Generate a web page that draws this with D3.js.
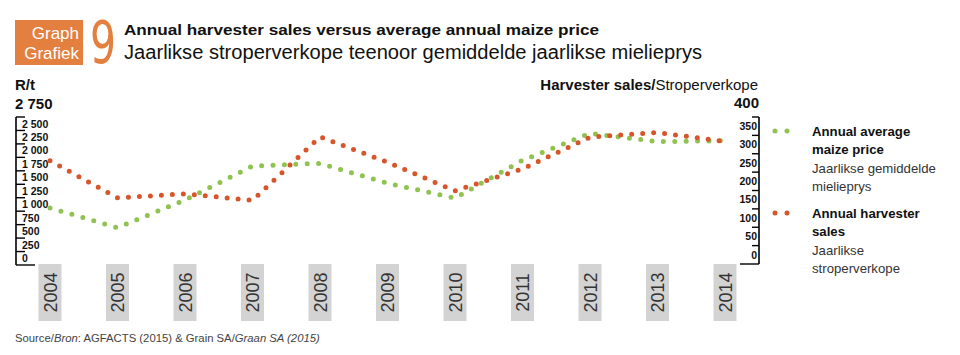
<!DOCTYPE html>
<html><head><meta charset="utf-8">
<script src="https://cdn.jsdelivr.net/npm/d3@7/dist/d3.min.js"></script>
<style>body{margin:0;background:#fff}svg{display:block}</style>
</head><body>
<svg id="c" width="960" height="355"></svg>
<script>
const years = [2004,2005,2006,2007,2008,2009,2010,2011,2012,2013,2014];
const maizePrice = [1060,693,1208,1839,1889,1518,1245,1945,2447,2291,2310];
const harvesterSales = [281,180,191,173,346,277,199,259,345,358,333];
const leftTicks = [0,250,500,750,1000,1250,1500,1750,2000,2250,2500,2750];
const rightTicks = [0,50,100,150,200,250,300,350,400];

const GREEN = "#8fc24f", ORANGE = "#d6552a", BOX = "#e3803f";
const FONT = "'Liberation Sans', Arial, sans-serif";
const svg = d3.select("#c");

// header
svg.append("rect").attr("x",15).attr("y",20).attr("width",68).attr("height",45).attr("fill",BOX);
svg.append("text").attr("x",79).attr("y",38.5).attr("text-anchor","end").attr("fill","#fff")
  .attr("font-family",FONT).attr("font-size",17).text("Graph");
svg.append("text").attr("x",79).attr("y",58.5).attr("text-anchor","end").attr("fill","#fff")
  .attr("font-family",FONT).attr("font-size",17).text("Grafiek");
svg.append("text").attr("x",90).attr("y",63).attr("fill",BOX)
  .attr("font-family","'DejaVu Sans', sans-serif").attr("font-size",58)
  .attr("textLength",26).attr("lengthAdjust","spacingAndGlyphs").text("9");
svg.append("text").attr("x",124).attr("y",35).attr("fill","#111").attr("font-family",FONT)
  .attr("font-weight","bold").attr("font-size",15.5).attr("textLength",475).attr("lengthAdjust","spacingAndGlyphs")
  .text("Annual harvester sales versus average annual maize price");
svg.append("text").attr("x",124).attr("y",59).attr("fill","#111").attr("font-family",FONT)
  .attr("font-size",19.5).attr("textLength",578).attr("lengthAdjust","spacingAndGlyphs")
  .text("Jaarlikse stroperverkope teenoor gemiddelde jaarlikse mielieprys");

// axis titles
svg.append("text").attr("x",15).attr("y",90).attr("font-family",FONT).attr("font-weight","bold")
  .attr("font-size",15).attr("fill","#111").text("R/t");
svg.append("text").attr("x",15).attr("y",109).attr("font-family",FONT).attr("font-weight","bold")
  .attr("font-size",15).attr("fill","#111").text("2 750");
const ht = svg.append("text").attr("x",758).attr("y",90).attr("text-anchor","end")
  .attr("font-family",FONT).attr("font-size",15).attr("fill","#111");
ht.append("tspan").attr("font-weight","bold").text("Harvester sales/");
ht.append("tspan").text("Stroperverkope");
svg.append("text").attr("x",759).attr("y",108).attr("text-anchor","end").attr("font-family",FONT)
  .attr("font-weight","bold").attr("font-size",15).attr("fill","#111").text("400");

// scales
const x = d3.scalePoint().domain(years).range([50,725]);
const yL = d3.scaleLinear().domain([0,2750]).range([265,117]);
const yR = d3.scaleLinear().domain([0,400]).range([264,117]);

// left axis (ruler)
const gL = svg.append("g");
gL.append("line").attr("x1",16).attr("x2",16).attr("y1",yL(2750)).attr("y2",yL(0)).attr("stroke","#000").attr("stroke-width",1.6);
gL.selectAll("line.t").data(leftTicks).join("line").attr("class","t")
  .attr("x1",16).attr("x2",d=>d===0?35:25).attr("y1",d=>yL(d)).attr("y2",d=>yL(d))
  .attr("stroke","#000").attr("stroke-width",1.4);
const fmt = d => d>=1000 ? Math.floor(d/1000)+" "+String(d%1000).padStart(3,"0") : String(d);
gL.selectAll("text").data(leftTicks.slice(0,-1)).join("text")
  .attr("x",22).attr("y",d=>(yL(d)+yL(d+250))/2+3.8)
  .attr("font-family",FONT).attr("font-weight","bold").attr("font-size",10.5).attr("fill","#111")
  .text(fmt);

// right axis
const gR = svg.append("g");
gR.append("line").attr("x1",759).attr("x2",759).attr("y1",yR(400)).attr("y2",yR(0)).attr("stroke","#000").attr("stroke-width",1.6);
gR.selectAll("line.t").data(rightTicks).join("line").attr("class","t")
  .attr("x1",d=>d===0?740:752).attr("x2",759).attr("y1",d=>yR(d)).attr("y2",d=>yR(d))
  .attr("stroke","#000").attr("stroke-width",1.4);
gR.selectAll("text").data(rightTicks.slice(0,-1)).join("text")
  .attr("x",757).attr("y",d=>(yR(d)+yR(d+50))/2+3.8).attr("text-anchor","end")
  .attr("font-family",FONT).attr("font-weight","bold").attr("font-size",10.5).attr("fill","#111")
  .text(d=>d);

// year labels
const gX = svg.append("g");
gX.selectAll("rect").data(years).join("rect")
  .attr("x",d=>x(d)-11.5).attr("y",264).attr("width",23).attr("height",57).attr("fill","#d3d3d3");
gX.selectAll("text").data(years).join("text")
  .attr("transform",d=>`translate(${x(d)+6.5},292.5) rotate(-90)`).attr("text-anchor","middle")
  .attr("font-family",FONT).attr("font-size",18).attr("fill","#333").text(d=>d);

// lines (straight segments drawn as round dots)
const lineL = d3.line().x((d,i)=>x(years[i])).y(d=>yL(d)).curve(d3.curveLinear);
const lineR = d3.line().x((d,i)=>x(years[i])).y(d=>yR(d)).curve(d3.curveLinear);
svg.append("path").attr("d",lineL(maizePrice)).attr("fill","none").attr("stroke",GREEN)
  .attr("stroke-width",5).attr("stroke-linecap","round").attr("stroke-dasharray","0 11.4");
svg.append("path").attr("d",lineR(harvesterSales)).attr("fill","none").attr("stroke",ORANGE)
  .attr("stroke-width",5).attr("stroke-linecap","round").attr("stroke-dasharray","0 11");

// legend
const legend = [
  {c:GREEN, y:131, lines:[["Annual average",true],["maize price",true],["Jaarlikse gemiddelde",false],["mielieprys",false]]},
  {c:ORANGE, y:213, lines:[["Annual harvester",true],["sales",true],["Jaarlikse",false],["stroperverkope",false]]}
];
legend.forEach(l=>{
  svg.append("line").attr("x1",775).attr("x2",799).attr("y1",l.y).attr("y2",l.y).attr("stroke",l.c)
    .attr("stroke-width",5).attr("stroke-linecap","round").attr("stroke-dasharray","0 12");
  l.lines.forEach((t,i)=>{
    svg.append("text").attr("x",812).attr("y",l.y+4.8+i*18.4).attr("font-family",FONT)
      .attr("font-size",13.2).attr("font-weight",t[1]?"bold":"normal").attr("fill",t[1]?"#111":"#333").text(t[0]);
  });
});

// source
const src = svg.append("text").attr("x",15).attr("y",342).attr("font-family",FONT).attr("font-size",11.3).attr("fill","#444");
src.append("tspan").text("Source/");
src.append("tspan").attr("font-style","italic").text("Bron");
src.append("tspan").text(": AGFACTS (2015) & Grain SA/");
src.append("tspan").attr("font-style","italic").text("Graan SA (2015)");
</script>
</body></html>
